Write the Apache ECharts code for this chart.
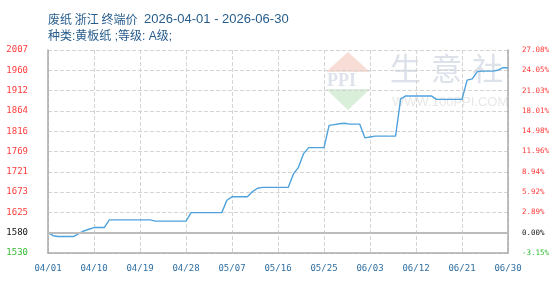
<!DOCTYPE html>
<html><head><meta charset="utf-8">
<script src="https://cdn.jsdelivr.net/npm/echarts@6/dist/echarts.min.js"></script>
<style>html,body{margin:0;padding:0;background:#fff}#c{width:554px;height:285px}</style>
</head><body><div id="c"></div>
<script>
var dates = ["04/01","04/02","04/03","04/04","04/05","04/06","04/07","04/08","04/09","04/10",
"04/11","04/12","04/13","04/14","04/15","04/16","04/17","04/18","04/19","04/20",
"04/21","04/22","04/23","04/24","04/25","04/26","04/27","04/28","04/29","04/30",
"05/01","05/02","05/03","05/04","05/05","05/06","05/07","05/08","05/09","05/10",
"05/11","05/12","05/13","05/14","05/15","05/16","05/17","05/18","05/19","05/20",
"05/21","05/22","05/23","05/24","05/25","05/26","05/27","05/28","05/29","05/30","05/31",
"06/01","06/02","06/03","06/04","06/05","06/06","06/07","06/08","06/09","06/10",
"06/11","06/12","06/13","06/14","06/15","06/16","06/17","06/18","06/19","06/20",
"06/21","06/22","06/23","06/24","06/25","06/26","06/27","06/28","06/29","06/30"];
var prices = [1580,1573,1571,1571,1571,1571,1578,1584,1588,1592,
1592,1592,1610,1610,1610,1610,1610,1610,1610,1610,
1610,1607,1607,1607,1607,1607,1607,1607,1627,1627,
1627,1627,1627,1627,1627,1656,1664,1664,1664,1664,
1676,1684,1686,1686,1686,1686,1686,1686,1717,1733,
1765,1779,1779,1779,1779,1831,1833,1835,1836,1834,
1834,1834,1802,1804,1806,1806,1806,1806,1806,1893,
1900,1900,1900,1900,1900,1900,1892,1892,1892,1892,
1892,1892,1937,1940,1957,1958,1958,1958,1960,1966,1966];
var leftTicks = ["1530","1580","1625","1673","1721","1769","1816","1864","1912","1960","2007"];
var rightTicks = ["-3.15%","0.00%","2.89%","5.92%","8.94%","11.96%","14.98%","18.01%","21.03%","24.05%","27.08%"];
var baseValue = 1580;
var titleCjk = "废纸 浙江 终端价 ";
var titleDates = "2026-04-01 - 2026-06-30";
var titleLine2 = "种类:黄板纸 ;等级: A级;";

function tickColor(i){ return i===0 ? '#33bb33' : (i===1 ? '#111111' : '#ff3b3b'); }

var titleColor = '#275d8c';
var chart = echarts.init(document.getElementById('c'), null, {renderer:'canvas'});
chart.setOption({
  animation:false,
  backgroundColor:'#fff',
  title:[
    {text:'{c|' + titleCjk + '}{l|' + titleDates + '}', left:48, top:13, padding:0,
      textStyle:{fontSize:12, fontWeight:'normal', color:titleColor,
        rich:{c:{fontFamily:'Noto Sans CJK SC', fontSize:12, color:titleColor, padding:[0,4,0,0]},
              l:{fontFamily:'Liberation Sans', fontSize:13, color:titleColor}}}},
    {text:titleLine2, left:48, top:31, padding:0, textStyle:{fontFamily:"'Liberation Sans','Noto Sans CJK SC'", fontSize:12, fontWeight:'normal', color:titleColor}}
  ],
  graphic:[
    {type:'polygon', silent:true, z:-1, shape:{points:[[348,52],[370,72],[326,72]]}, style:{fill:'#f8dcd6'}},
    {type:'polygon', silent:true, z:-1, shape:{points:[[326,89],[370,89],[348,110]]}, style:{fill:'#d9efd9'}},
    {type:'text', silent:true, z:-1, left:327, top:72, style:{text:'PPI', fontFamily:'Liberation Serif', fontWeight:'bold', fontSize:18, fill:'#dde2ec'}},
    {type:'text', silent:true, z:-1, left:390, top:53, style:{text:'生', fontFamily:'Noto Sans CJK SC', fontSize:31, fill:'#dce1ea'}},
    {type:'text', silent:true, z:-1, left:431, top:53, style:{text:'意', fontFamily:'Noto Sans CJK SC', fontSize:31, fill:'#dce1ea'}},
    {type:'text', silent:true, z:-1, left:472, top:53, style:{text:'社', fontFamily:'Noto Sans CJK SC', fontSize:31, fill:'#dce1ea'}},
    {type:'text', silent:true, z:-1, left:392, top:96, style:{text:'WWW.100PPI.COM', fontFamily:'Liberation Sans', fontSize:13, fill:'#e8e8e8'}}
  ],
  grid:{left:48, right:46, top:50, bottom:32},
  xAxis:{
    type:'category', data:dates, boundaryGap:false,
    axisLine:{lineStyle:{color:'#aaaaaa', width:1.5}},
    axisTick:{show:false},
    axisLabel:{interval:8, margin:11, color:'#2f6fa3', fontFamily:'DejaVu Sans Mono', fontSize:9},
    splitLine:{show:true, interval:8, lineStyle:{color:'#d4d4d4', type:'dashed', width:1}}
  },
  yAxis:[
    {type:'value', show:false, min:1532.5, max:2007.5, splitLine:{show:false}},
    {type:'value', position:'left', min:0, max:10, interval:1,
      axisLine:{show:true, lineStyle:{color:'#aaaaaa', width:1.5}}, axisTick:{show:false},
      axisLabel:{margin:20, fontFamily:'DejaVu Sans Mono', fontSize:9,
        formatter:function(v){return leftTicks[Math.round(v)];},
        color:function(v){return tickColor(Math.round(v));}},
      splitLine:{show:true, lineStyle:{color:'#d4d4d4', type:'dashed', width:1}}},
    {type:'value', position:'right', min:0, max:10, interval:1,
      axisLine:{show:true, lineStyle:{color:'#aaaaaa', width:1.5}}, axisTick:{show:false},
      axisLabel:{margin:14, fontFamily:'DejaVu Sans Mono', fontSize:7.5,
        formatter:function(v){return rightTicks[Math.round(v)];},
        color:function(v){return tickColor(Math.round(v));}},
      splitLine:{show:false}}
  ],
  series:[{
    type:'line', yAxisIndex:0, data:prices, showSymbol:false, smooth:false,
    lineStyle:{color:'#4fa3dd', width:1.4}, itemStyle:{color:'#4fa3dd'},
    markLine:{silent:true, symbol:['none','none'], label:{show:false},
      lineStyle:{color:'#bcbcbc', type:'solid', width:2},
      data:[{yAxis:baseValue}]},
    z:3
  }]
});
</script></body></html>
